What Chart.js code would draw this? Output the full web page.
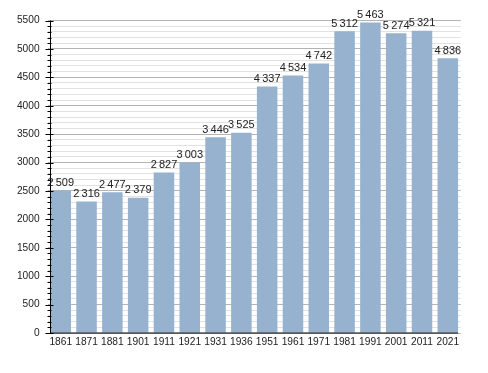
<!DOCTYPE html>
<html>
<head>
<meta charset="UTF-8">
<title>Population</title>
<script src="https://cdn.jsdelivr.net/npm/chart.js"></script>
<style>
  html, body { margin: 0; padding: 0; background: #fff; }
  #wrap { width: 488px; height: 373px; }
</style>
</head>
<body>
<div id="wrap"><canvas id="grafico"></canvas></div>
<script>
    var annees = ['1861', '1871', '1881', '1901', '1911', '1921', '1931', '1936',
        '1951', '1961', '1971', '1981', '1991', '2001', '2011', '2021'];
    var population = [2509, 2316, 2477, 2379, 2827, 3003, 3446, 3525,
        4337, 4534, 4742, 5312, 5463, 5274, 5321, 4836];
    var graduations = [0, 500, 1000, 1500, 2000, 2500, 3000, 3500, 4000, 4500, 5000, 5500];

    var police = 'Liberation Sans, Arial, sans-serif';

    function formatNombre(n) {
        var s = String(n);
        return s.length > 3 ? s.slice(0, s.length - 3) + '\u2009' + s.slice(-3) : s;
    }

    // axes, ticks and value labels drawn by hand
    var dessin = {
        id: 'dessin',
        afterDatasetsDraw: function (chart) {
            var ctx = chart.ctx;
            var y = chart.scales.y;
            var bars = chart.getDatasetMeta(0).data;
            var x0 = Math.round(bars[0].x - bars[0].width / 2) + 0.5;
            var last = bars[bars.length - 1];
            var x1 = last.x + last.width / 2;
            ctx.save();
            ctx.strokeStyle = '#000';
            ctx.lineWidth = 1;
            ctx.beginPath();
            ctx.moveTo(x0, y.getPixelForValue(5500));
            ctx.lineTo(x0, y.getPixelForValue(0));
            ctx.lineTo(x1, y.getPixelForValue(0));
            for (var v = 0; v <= 5500; v += 100) {
                var py = Math.round(y.getPixelForValue(v)) + 0.5;
                var major = v % 500 == 0;
                ctx.moveTo(x0 - (major ? 5 : 3), py);
                ctx.lineTo(x0 + (major ? 3 : 1), py);
            }
            ctx.stroke();

            ctx.fillStyle = '#222';
            ctx.font = '11px ' + police;
            ctx.textAlign = 'center';
            ctx.textBaseline = 'bottom';
            for (var i = 0; i < bars.length; i++) {
                ctx.fillText(formatNombre(population[i]), bars[i].x, bars[i].y - 2);
            }
            ctx.restore();
        }
    };

    var config = {
        type: 'bar',
        data: {
            labels: annees,
            datasets: [{
                data: population,
                backgroundColor: '#97b2ce',
                borderWidth: 0,
                categoryPercentage: 1,
                barPercentage: 0.795
            }]
        },
        options: {
            responsive: true,
            maintainAspectRatio: false,
            animation: false,
            layout: { padding: { top: 20.5, right: 27.3, bottom: 0, left: 0 } },
            plugins: { legend: { display: false }, tooltip: { enabled: false } },
            scales: {
                x: {
                    grid: { display: false, drawTicks: false },
                    border: { display: false },
                    ticks: { color: '#222', font: { family: police, size: 10.2 }, padding: 3, maxRotation: 0, autoSkip: false },
                    afterFit: function (s) { s.height = 40; }
                },
                y: {
                    min: 0,
                    max: 5500,
                    border: { display: false },
                    grid: {
                        drawTicks: false,
                        color: function (c) { return c.tick.value % 500 == 0 ? '#b4b4b4' : '#e2e2e2'; }
                    },
                    ticks: {
                        stepSize: 100,
                        autoSkip: false,
                        padding: 8.3,
                        color: '#222',
                        font: { family: police, size: 10.2 },
                        callback: function (v) { return graduations.indexOf(v) >= 0 ? String(v) : ''; }
                    },
                    afterFit: function (s) { s.width = 47.85; }
                }
            }
        },
        plugins: [dessin]
    };

    var grafico = new Chart(document.getElementById('grafico'), config);
</script>
</body>
</html>
